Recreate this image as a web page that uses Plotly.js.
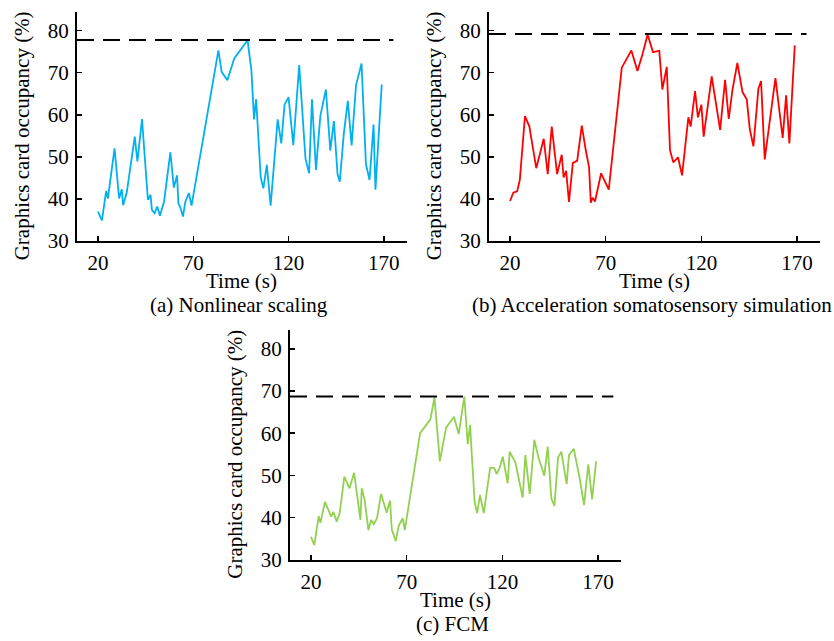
<!DOCTYPE html>
<html>
<head>
<meta charset="utf-8">
<script src="https://cdn.plot.ly/plotly-3.0.1.min.js"></script>
<style>html,body{margin:0;padding:0;background:#fff;}#chart{width:834px;height:641px;}</style>
</head>
<body>
<div id="chart"></div>
<script>
// ---- Data ----
const timeA = [20,22.1,24.3,25.2,28.7,31.1,32.5,33.2,35.1,39.3,40.7,43.1,46.2,47.6,48.3,49.7,51.1,52.5,54.7,58.0,59.8,61.5,62.2,63.2,64.6,65.8,67.7,69.1,83.2,84.9,87.9,91.5,98.5,100.5,101.9,103.0,105.4,106.8,108.6,110.6,114.3,116.2,117.9,120.0,122.5,125.6,128.9,130.8,132.3,134.4,136.7,139.6,141.9,143.8,145.7,146.9,149.0,151.1,153.1,155.4,158.3,160.6,162.5,164.6,165.6,168.9];
const occA = [37.0,34.9,41.9,40.1,52.0,40.1,42.3,38.5,41.5,54.8,48.9,59.0,39.8,41.0,37.4,36.6,38.2,36.0,39.4,51.1,42.7,45.6,38.9,38.0,35.8,39.3,41.4,38.4,75.3,70.2,68.2,73.4,77.7,70.6,58.9,63.7,45.1,42.5,48.1,38.4,58.9,53.2,62.4,64.2,52.8,71.8,49.5,46.1,63.7,46.9,59.8,66.0,51.5,58.5,45.9,44.1,55.5,63.3,52.7,67.0,72.2,48.3,44.5,57.7,42.2,67.2];

const timeB = [20,21.7,23.7,25.1,27.8,30.1,33.7,37.6,39.7,41.8,44.6,47.0,48.0,49.3,50.8,52.8,55.1,57.5,59.6,61.3,62.2,63.2,64.4,67.6,71.6,78.4,83.4,86.6,89.3,91.9,94.7,98.0,99.6,101.9,103.6,105.3,107.8,109.9,113.2,114.4,116.7,118.2,120.0,121.2,125.4,129.8,132.4,134.3,136.2,138.8,141.5,143.7,145.3,147.2,149.8,151.2,153.1,155.9,158.7,162.5,164.3,166.0,168.8];
const occB = [39.5,41.5,41.8,44.5,59.7,57.2,47.3,54.3,45.9,57.2,45.9,50.5,45.1,46.7,39.3,48.5,49.1,57.4,51.5,47.5,39.1,40.3,39.4,46.1,42.2,71.2,75.3,70.4,74.5,79.1,74.9,75.2,66.0,71.4,51.6,48.7,49.9,45.6,59.4,57.2,65.6,59.4,62.4,54.8,69.1,56.4,68.3,59.0,65.8,72.3,65.4,63.7,56.6,52.5,66.2,68.0,49.4,59.4,68.7,54.5,64.6,53.2,76.5];

const timeC = [20,21.7,24.0,24.9,27.3,30.5,31.7,33.4,35.0,37.4,40.1,42.5,45.8,46.5,48.0,50.0,51.4,52.8,54.5,56.6,59.5,61.3,62.2,64.3,65.8,67.9,69.0,77.0,82.4,84.5,87.3,90.6,94.7,97.2,100.1,101.9,103.1,105.5,106.8,108.3,110.3,113.6,115.8,117.0,118.6,120.2,122.8,123.8,126.8,130.6,132.0,134.3,136.7,139.0,141.9,143.7,145.6,147.2,149.1,150.8,153.6,154.8,157.3,160.3,162.7,164.9,166.9,169.0];
const occC = [35.4,33.4,40.3,38.7,43.7,40.2,41.3,39.0,41.1,49.7,46.9,50.6,39.4,46.9,44.1,37.0,39.4,38.4,39.8,45.6,41.1,44.0,37.1,34.4,38.0,39.8,37.0,60.0,63.3,68.5,53.3,61.3,63.9,59.8,68.7,57.4,62.0,43.7,41.0,45.3,41.0,51.8,51.7,50.3,51.8,54.4,48.1,55.6,53.0,44.7,54.8,45.6,58.4,54.0,49.9,56.8,44.5,42.7,54.2,55.6,47.9,54.8,56.3,49.5,42.9,52.6,44.3,53.3];

const refLevels = [77.8, 79.2, 68.7];
const refStart = [9, 9, 9];
const refEnd = [175, 175, 178];

const xTicks = [20, 70, 120, 170];
const yTicks = [30, 40, 50, 60, 70, 80];
const xTitle = 'Time (s)';
const yTitle = 'Graphics card occupancy (%)';
const captions = ['(a) Nonlinear scaling', '(b) Acceleration somatosensory simulation', '(c) FCM'];
const colors = ['#00B0F0', '#FF0000', '#92D050'];

// ---- Layout helpers ----
const W = 834, H = 641;
const px = v => v / W;
const py = v => (H - v) / H;
const FONT = "'Liberation Serif', 'Times New Roman', serif";
const FS = 21;

// pixel boxes [left, right, top, bottom]
const boxes = [[77, 406.7, 11.7, 241], [489, 820, 11.7, 241], [290, 621, 330, 559.5]];
const axNames = ['', '2', '3'];
const series = [[timeA, occA], [timeB, occB], [timeC, occC]];

const traces = [];
const layout = {
  width: W, height: H, showlegend: false,
  margin: {l: 0, r: 0, t: 0, b: 0},
  paper_bgcolor: '#fff', plot_bgcolor: '#fff',
  font: {family: FONT, size: FS, color: '#000'},
  annotations: []
};

boxes.forEach((b, i) => {
  const xa = 'xaxis' + axNames[i], ya = 'yaxis' + axNames[i];
  const xr = 'x' + axNames[i], yr = 'y' + axNames[i];
  const axCommon = {
    showgrid: false, zeroline: false, showline: true, linecolor: '#000', linewidth: 2,
    ticks: 'inside', ticklen: 5, tickwidth: 1.5, tickcolor: '#000',
    tickfont: {family: FONT, size: FS, color: '#000'}, fixedrange: true
  };
  layout[xa] = Object.assign({}, axCommon, {
    domain: [px(b[0]), px(b[1])], range: [9, 182], tickvals: xTicks, ticktext: xTicks.map(String),
    anchor: yr, ticklabelstandoff: 2
  });
  layout[ya] = Object.assign({}, axCommon, {
    domain: [py(b[3]), py(b[2])], range: [30, 84.5], tickvals: yTicks, ticktext: yTicks.map(String),
    anchor: xr, ticklabelstandoff: 2
  });
  traces.push({
    x: series[i][0], y: series[i][1], xaxis: xr, yaxis: yr, type: 'scatter', mode: 'lines',
    line: {color: colors[i], width: 1.8}, hoverinfo: 'skip'
  });
  traces.push({
    x: [refStart[i], refEnd[i]], y: [refLevels[i], refLevels[i]], xaxis: xr, yaxis: yr,
    type: 'scatter', mode: 'lines', line: {color: '#000', width: 2, dash: '17px,9px'}, hoverinfo: 'skip'
  });
  const cx = (b[0] + b[1]) / 2;
  layout.annotations.push({
    text: xTitle, xref: 'paper', yref: 'paper', x: px(cx), y: py(b[3] + 40),
    xanchor: 'center', yanchor: 'middle', showarrow: false, font: {family: FONT, size: FS, color: '#000'}
  });
  layout.annotations.push({
    text: captions[i], xref: 'paper', yref: 'paper', x: px(cx - 3), y: py(b[3] + 64),
    xanchor: 'center', yanchor: 'middle', showarrow: false, font: {family: FONT, size: FS, color: '#000'}
  });
  layout.annotations.push({
    text: yTitle, xref: 'paper', yref: 'paper', x: px(b[0] - 55), y: py((b[2] + b[3]) / 2 + 10),
    xanchor: 'center', yanchor: 'middle', textangle: -90, showarrow: false,
    font: {family: FONT, size: FS, color: '#000'}
  });
});

Plotly.newPlot('chart', traces, layout, {displayModeBar: false, staticPlot: true});
</script>
</body>
</html>
